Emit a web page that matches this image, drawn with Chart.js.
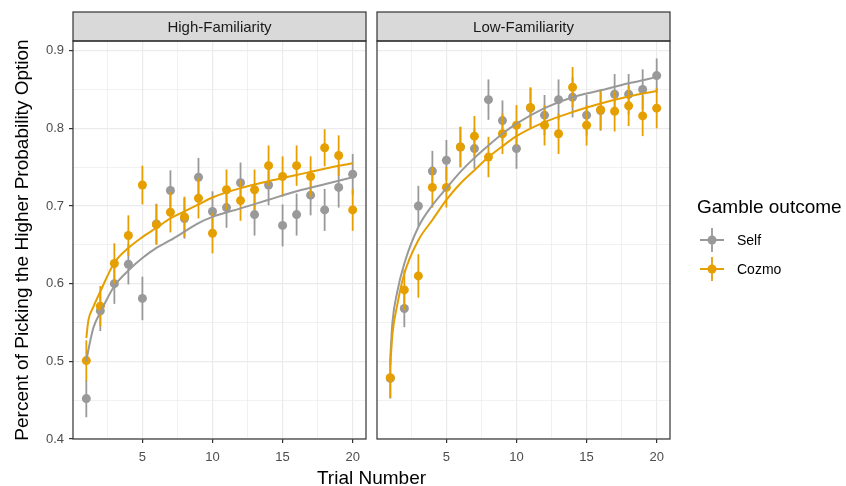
<!DOCTYPE html>
<html>
<head>
<meta charset="utf-8">
<title>Trial learning curves</title>
<script src="https://cdn.jsdelivr.net/npm/chart.js@4.4.1/dist/chart.umd.min.js"></script>
<style>
  body { margin: 0; background: #fff; }
  #wrap { position: relative; width: 846px; height: 486px; font-family: "Liberation Sans", Arial, sans-serif; }
  #wrap canvas { position: absolute; top: 0; }
  #left { left: 0; }
  #right { left: 372px; }
  #xtitle { position: absolute; left: 0; width: 743px; top: 467px; text-align: center; font-size: 19px; line-height: 22px; color: #000; }
</style>
</head>
<body>
<div id="wrap">
  <canvas id="left" width="372" height="486"></canvas>
  <canvas id="right" width="474" height="486"></canvas>
  <div id="xtitle">Trial Number</div>
</div>
<script>
// trial numbers and mean proportion per trial
const trials = [1, 2, 3, 4, 5, 6, 7, 8, 9, 10, 11, 12, 13, 14, 15, 16, 17, 18, 19, 20];

const highSelf   = [0.452, 0.565, 0.600, 0.625, 0.581, 0.677, 0.720, 0.684, 0.737, 0.693, 0.698, 0.730, 0.689, 0.727, 0.675, 0.689, 0.714, 0.695, 0.724, 0.741];
const highCozmo  = [0.501, 0.571, 0.626, 0.662, 0.727, 0.676, 0.692, 0.686, 0.710, 0.665, 0.721, 0.707, 0.721, 0.752, 0.738, 0.752, 0.738, 0.775, 0.765, 0.695];
const lowSelf    = [0.478, 0.568, 0.700, 0.745, 0.759, 0.776, 0.774, 0.837, 0.810, 0.774, 0.826, 0.817, 0.837, 0.840, 0.817, 0.823, 0.844, 0.844, 0.850, 0.868];
const lowCozmo   = [0.479, 0.592, 0.610, 0.724, 0.724, 0.776, 0.790, 0.763, 0.793, 0.804, 0.827, 0.804, 0.793, 0.853, 0.804, 0.824, 0.822, 0.829, 0.816, 0.826];

// standard errors (half length of each bar)
const highSelfSe  = [0.024, 0.026, 0.026, 0.026, 0.028, 0.026, 0.026, 0.026, 0.025, 0.026, 0.026, 0.026, 0.027, 0.026, 0.027, 0.027, 0.026, 0.027, 0.026, 0.026];
const highCozmoSe = [0.026, 0.026, 0.026, 0.026, 0.025, 0.026, 0.026, 0.026, 0.026, 0.026, 0.026, 0.026, 0.026, 0.026, 0.026, 0.026, 0.026, 0.024, 0.026, 0.027];
const lowSelfSe   = [0.026, 0.024, 0.026, 0.026, 0.026, 0.026, 0.026, 0.026, 0.026, 0.026, 0.026, 0.026, 0.026, 0.026, 0.026, 0.026, 0.026, 0.026, 0.026, 0.022];
const lowCozmoSe  = [0.026, 0.026, 0.028, 0.026, 0.026, 0.026, 0.026, 0.026, 0.026, 0.026, 0.026, 0.026, 0.026, 0.026, 0.026, 0.026, 0.026, 0.026, 0.026, 0.026];

// fitted curves
const fitTrials     = [1, 1.15, 1.5, 2, 3, 4, 5, 6, 7, 8, 9, 10, 12, 14, 16, 18, 20];
const highSelfFit   = [0.500, 0.515, 0.543, 0.563, 0.597, 0.617, 0.633, 0.646, 0.656, 0.667, 0.678, 0.686, 0.697, 0.708, 0.719, 0.728, 0.737];
const highCozmoFit  = [0.530, 0.553, 0.570, 0.590, 0.627, 0.646, 0.660, 0.672, 0.684, 0.693, 0.702, 0.711, 0.723, 0.732, 0.740, 0.748, 0.755];
const lowSelfFit    = [0.505, 0.550, 0.590, 0.626, 0.673, 0.701, 0.723, 0.744, 0.762, 0.778, 0.793, 0.806, 0.826, 0.840, 0.849, 0.858, 0.866];
const lowCozmoFit   = [0.495, 0.535, 0.573, 0.613, 0.656, 0.682, 0.708, 0.729, 0.746, 0.763, 0.777, 0.790, 0.808, 0.821, 0.832, 0.841, 0.848];

const xTicks = [2.5, 5, 7.5, 10, 12.5, 15, 17.5, 20];
const yTicks = [0.4, 0.45, 0.5, 0.55, 0.6, 0.65, 0.7, 0.75, 0.8, 0.85, 0.9];

const SELF = '#999999';
const COZMO = '#E69F00';

Chart.defaults.font.family = '"Liberation Sans", Arial, sans-serif';
Chart.defaults.animation = false;

const isMajor = (v, step) => Math.abs(v / step - Math.round(v / step)) < 1e-6;
const pts = (xs, ys) => xs.map((x, i) => ({ x: x, y: ys[i] }));

// vertical error bars, drawn right before each point layer
const errorBars = {
  id: 'errorBars',
  beforeDatasetDraw(chart, args) {
    const ds = chart.data.datasets[args.index];
    if (!ds.se) return;
    const { ctx, scales: { x, y } } = chart;
    ctx.save();
    ctx.strokeStyle = ds.pointBackgroundColor;
    ctx.lineWidth = 1.8;
    ds.data.forEach((p, i) => {
      const px = x.getPixelForValue(p.x);
      ctx.beginPath();
      ctx.moveTo(px, y.getPixelForValue(p.y - ds.se[i]));
      ctx.lineTo(px, y.getPixelForValue(p.y + ds.se[i]));
      ctx.stroke();
    });
    ctx.restore();
  }
};

// panel border plus the grey facet strip on top
const facetFrame = {
  id: 'facetFrame',
  afterDraw(chart, args, opts) {
    const { ctx, chartArea: a } = chart;
    ctx.save();
    ctx.fillStyle = '#D9D9D9';
    ctx.fillRect(a.left, 12, a.right - a.left, a.top - 12);
    ctx.strokeStyle = '#333333';
    ctx.lineWidth = 1.2;
    ctx.strokeRect(a.left, 12, a.right - a.left, a.top - 12);
    ctx.strokeRect(a.left, a.top, a.right - a.left, a.bottom - a.top);
    ctx.fillStyle = '#1A1A1A';
    ctx.font = '15px "Liberation Sans", Arial, sans-serif';
    ctx.textAlign = 'center';
    ctx.textBaseline = 'middle';
    ctx.fillText(opts.label, (a.left + a.right) / 2, (12 + a.top) / 2 + 1);
    ctx.restore();
  }
};

// "Gamble outcome" key, right of the second panel
const outcomeLegend = {
  id: 'outcomeLegend',
  afterDraw(chart) {
    const ctx = chart.ctx;
    ctx.save();
    ctx.textBaseline = 'middle';
    ctx.textAlign = 'left';
    ctx.fillStyle = '#000';
    ctx.font = '19px "Liberation Sans", Arial, sans-serif';
    ctx.fillText('Gamble outcome', 325, 208);
    const items = [['Self', SELF, 240], ['Cozmo', COZMO, 269]];
    ctx.font = '14px "Liberation Sans", Arial, sans-serif';
    items.forEach(([name, col, cy]) => {
      const cx = 340;
      ctx.strokeStyle = col;
      ctx.lineWidth = 1.8;
      ctx.beginPath();
      ctx.moveTo(cx - 12, cy); ctx.lineTo(cx + 12, cy);
      ctx.moveTo(cx, cy - 12); ctx.lineTo(cx, cy + 12);
      ctx.stroke();
      ctx.fillStyle = col;
      ctx.beginPath();
      ctx.arc(cx, cy, 4.5, 0, Math.PI * 2);
      ctx.fill();
      ctx.fillStyle = '#000';
      ctx.fillText(name, 365, cy + 1);
    });
    ctx.restore();
  }
};

function makePanel(id, label, self, selfSe, cozmo, cozmoSe, selfFit, cozmoFit, first) {
  const fitStyle = { type: 'line', pointRadius: 0, borderWidth: 2, cubicInterpolationMode: 'monotone', fill: false };
  const pointStyle = { type: 'line', showLine: false, pointRadius: 4.5, pointHoverRadius: 4.5, pointBorderWidth: 0 };
  const plugins = [errorBars, facetFrame];
  if (!first) plugins.push(outcomeLegend);

  return new Chart(document.getElementById(id), {
    type: 'line',
    data: {
      datasets: [
        // first in the list is drawn last
        { ...fitStyle, label: 'Cozmo fit', data: pts(fitTrials, cozmoFit), borderColor: COZMO },
        { ...fitStyle, label: 'Self fit', data: pts(fitTrials, selfFit), borderColor: SELF },
        { ...pointStyle, label: 'Cozmo', data: pts(trials, cozmo), se: cozmoSe, pointBackgroundColor: COZMO, borderColor: COZMO },
        { ...pointStyle, label: 'Self', data: pts(trials, self), se: selfSe, pointBackgroundColor: SELF, borderColor: SELF }
      ]
    },
    options: {
      responsive: false,
      events: [],
      layout: { autoPadding: false, padding: { top: 41, right: first ? 6 : 176, left: 0, bottom: 0 } },
      scales: {
        x: {
          type: 'linear', min: 0.05, max: 20.95,
          afterBuildTicks: s => { s.ticks = xTicks.map(v => ({ value: v })); },
          afterFit: s => { s.height = 47; },
          border: { display: false },
          grid: {
            color: '#EBEBEB',
            lineWidth: c => (c.tick && isMajor(c.tick.value, 5) ? 1.2 : 0.7),
            tickColor: c => (c.tick && isMajor(c.tick.value, 5) ? '#333333' : 'rgba(0,0,0,0)'),
            tickLength: 4, tickWidth: 1.2
          },
          ticks: {
            autoSkip: false, maxRotation: 0, padding: 7, color: '#4D4D4D', font: { size: 13 },
            callback: v => (isMajor(v, 5) ? String(v) : '')
          }
        },
        y: {
          type: 'linear', min: 0.4, max: 0.9125,
          afterBuildTicks: s => { s.ticks = yTicks.map(v => ({ value: v })); },
          afterFit: s => { s.width = first ? 73 : 5; },
          border: { display: false },
          grid: {
            color: '#EBEBEB',
            lineWidth: c => (c.tick && isMajor(c.tick.value, 0.1) ? 1.2 : 0.7),
            tickColor: c => (first && c.tick && isMajor(c.tick.value, 0.1) ? '#333333' : 'rgba(0,0,0,0)'),
            drawTicks: first, tickLength: 4, tickWidth: 1.2
          },
          ticks: {
            display: first, padding: 5, color: '#4D4D4D', font: { size: 13 },
            callback: v => (isMajor(v, 0.1) ? v.toFixed(1) : '')
          },
          title: {
            display: first,
            text: 'Percent of Picking the Higher Probability Option',
            color: '#000', font: { size: 19 }, padding: { top: 11, bottom: 0 }
          }
        }
      },
      plugins: {
        legend: { display: false },
        tooltip: { enabled: false },
        facetFrame: { label: label }
      }
    },
    plugins: plugins
  });
}

makePanel('left', 'High-Familiarity', highSelf, highSelfSe, highCozmo, highCozmoSe, highSelfFit, highCozmoFit, true);
makePanel('right', 'Low-Familiarity', lowSelf, lowSelfSe, lowCozmo, lowCozmoSe, lowSelfFit, lowCozmoFit, false);
</script>
</body>
</html>
